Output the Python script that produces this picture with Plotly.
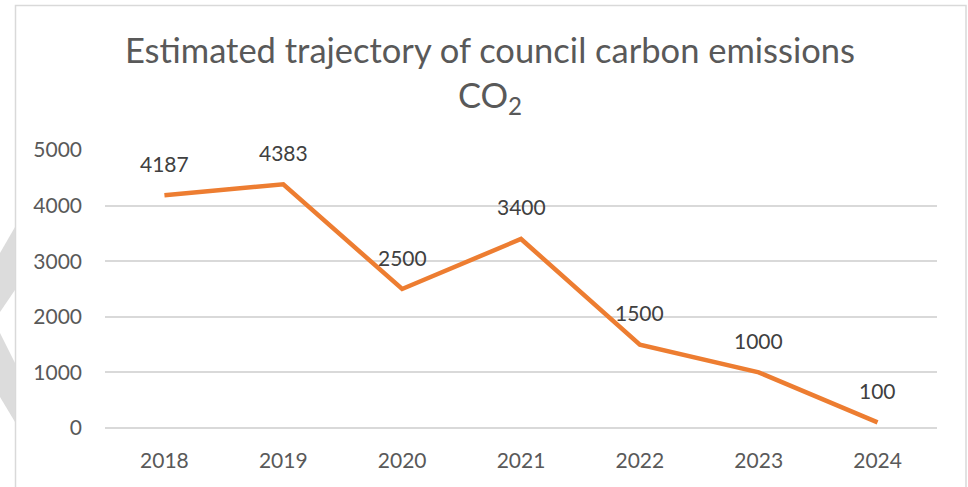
import plotly.graph_objects as go

years = ["2018", "2019", "2020", "2021", "2022", "2023", "2024"]
emissions = [4187, 4383, 2500, 3400, 1500, 1000, 100]
y_ticks = [0, 1000, 2000, 3000, 4000, 5000]

W, H = 968, 487
L, R, T, B = 105, 31, 150, 59
pw, ph = W - L - R, H - T - B

def px(x):
    return (x - L) / pw

def py(y):
    return (H - B - y) / ph

FONT = "Lato"
fig = go.Figure()
fig.add_trace(go.Scatter(
    x=years, y=emissions, mode="lines",
    line=dict(color="#ED7D31", width=4.5),
    hoverinfo="skip", showlegend=False,
))

annotations = [
    dict(x=i, y=v, xref="x", yref="y", text=str(v), showarrow=False,
         yanchor="middle", yshift=32,
         font=dict(family=FONT, size=21, color="#404040"))
    for i, v in enumerate(emissions)
]

shapes = [
    dict(type="rect", xref="paper", yref="paper",
         x0=px(15.5), x1=px(966), y0=py(495), y1=py(5.5),
         line=dict(color="#D9D9D9", width=1.5), fillcolor="rgba(0,0,0,0)", layer="below"),
    dict(type="path", xref="paper", yref="paper",
         path=f"M {px(0)} {py(253)} L {px(15)} {py(227)} L {px(15)} {py(290)} L {px(0)} {py(312)} Z",
         fillcolor="#DCDCDC", line=dict(width=0), layer="below"),
    dict(type="path", xref="paper", yref="paper",
         path=f"M {px(0)} {py(333)} L {px(15)} {py(363)} L {px(15)} {py(422)} L {px(0)} {py(397)} Z",
         fillcolor="#DCDCDC", line=dict(width=0), layer="below"),
]

fig.update_layout(
    width=W, height=H,
    margin=dict(l=L, r=R, t=T, b=B),
    paper_bgcolor="white", plot_bgcolor="white",
    title=dict(text="Estimated trajectory of council carbon emissions<br>CO<sub>2</sub>",
               x=px(490), xanchor="center", xref="paper",
               y=1 - 63 / H, yanchor="middle",
               font=dict(family=FONT, size=34.5, color="#595959")),
    xaxis=dict(type="category", range=[-0.5, 6.5], showgrid=False, showline=False, zeroline=False,
               ticks="", tickfont=dict(family=FONT, size=21, color="#595959"),
               ticklabelstandoff=18, fixedrange=True),
    yaxis=dict(range=[0, 5000], tickvals=y_ticks, showgrid=True, gridcolor="#D9D9D9",
               gridwidth=1.5, zeroline=True, zerolinecolor="#D9D9D9", zerolinewidth=1.5,
               showline=False, ticks="",
               tickfont=dict(family=FONT, size=21, color="#595959"),
               ticklabelstandoff=22, fixedrange=True),
    annotations=annotations,
    shapes=shapes,
)

fig.write_html("out.html", config={"displayModeBar": False},
               post_script="document.body.style.margin='0';document.body.style.overflow='hidden';")
